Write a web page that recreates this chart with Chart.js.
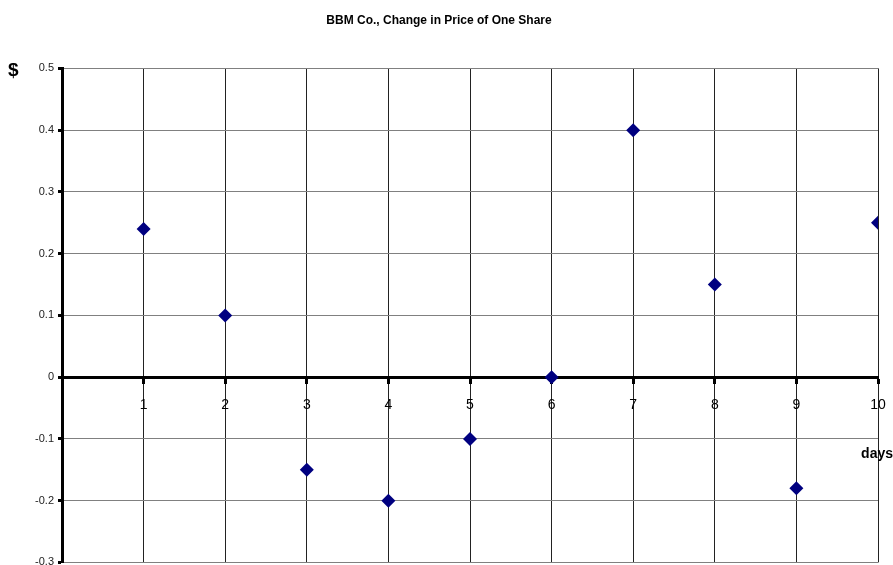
<!DOCTYPE html>
<html>
<head>
<meta charset="utf-8">
<script src="https://cdn.jsdelivr.net/npm/chart.js@4/dist/chart.umd.min.js"></script>
<style>
  html, body { margin: 0; padding: 0; background: #fff; overflow: hidden; }
  #wrap { width: 893px; height: 565px; overflow: hidden; }
</style>
</head>
<body>
<div id="wrap"><canvas id="myChart" width="893" height="573"></canvas></div>
<script>
// data
const days = [1, 2, 3, 4, 5, 6, 7, 8, 9, 10];
const priceChange = [0.24, 0.1, -0.15, -0.2, -0.1, 0, 0.4, 0.15, -0.18, 0.25];
const yMin = -0.3, yMax = 0.5, yStep = 0.1;
const xMin = 0, xMax = 10, xStep = 1;

const points = days.map((d, i) => ({ x: d, y: priceChange[i] }));

// extra axis captions ("$" and "days")
const axisCaptions = {
    id: 'axisCaptions',
    afterDraw(chart) {
        const ctx = chart.ctx;
        const area = chart.chartArea;
        const yScale = chart.scales.y;
        ctx.save();
        ctx.fillStyle = '#000';
        ctx.font = 'bold 19px "Liberation Sans", Arial, sans-serif';
        ctx.textAlign = 'left';
        ctx.textBaseline = 'middle';
        ctx.fillText('$', area.left - 54, yScale.getPixelForValue(yMax) + 2);
        ctx.font = 'bold 14px "Liberation Sans", Arial, sans-serif';
        ctx.textAlign = 'right';
        ctx.fillText('days', area.right + 15, yScale.getPixelForValue(-0.125));
        ctx.restore();
    }
};

new Chart(document.getElementById('myChart').getContext('2d'), {
    type: 'scatter',
    data: {
        datasets: [{
            label: 'Change in price',
            data: points,
            pointStyle: 'rectRot',
            pointRadius: 7,
            pointHoverRadius: 7,
            backgroundColor: '#000080',
            borderColor: '#000080',
            borderWidth: 0
        }]
    },
    options: {
        responsive: false,
        animation: false,
        layout: { padding: { left: 0, top: 0, right: 15, bottom: 0 } },
        plugins: {
            legend: { display: false },
            tooltip: { enabled: false },
            title: {
                display: true,
                text: 'BBM Co., Change in Price of One Share',
                color: '#000',
                font: { family: '"Liberation Sans", Arial, sans-serif', size: 12, weight: 'bold' },
                padding: { top: 13, bottom: 41 }
            }
        },
        scales: {
            x: {
                type: 'linear',
                position: { y: 0 },
                min: xMin,
                max: xMax,
                afterFit: s => { s.paddingLeft = 0; s.paddingRight = 0; },
                ticks: {
                    stepSize: xStep,
                    color: '#000',
                    padding: 15,
                    font: { family: '"Liberation Sans", Arial, sans-serif', size: 14 },
                    callback: v => (v === 0 ? '' : String(v))
                },
                grid: {
                    color: '#222',
                    lineWidth: 1,
                    drawTicks: true,
                    tickLength: 5,
                    tickColor: '#000',
                    tickWidth: 3
                },
                border: { color: '#000', width: 3 }
            },
            y: {
                type: 'linear',
                position: 'left',
                min: yMin,
                max: yMax,
                afterFit: s => { s.width = 62; },
                ticks: {
                    stepSize: yStep,
                    color: '#222',
                    padding: 4,
                    font: { family: '"Liberation Sans", Arial, sans-serif', size: 11 },
                    callback: v => String(Number(v.toFixed(1)))
                },
                grid: {
                    color: '#808080',
                    lineWidth: 1,
                    tickLength: 4,
                    tickColor: '#000',
                    tickWidth: 3
                },
                border: { color: '#000', width: 3 }
            }
        }
    },
    plugins: [axisCaptions]
});
</script>
</body>
</html>
